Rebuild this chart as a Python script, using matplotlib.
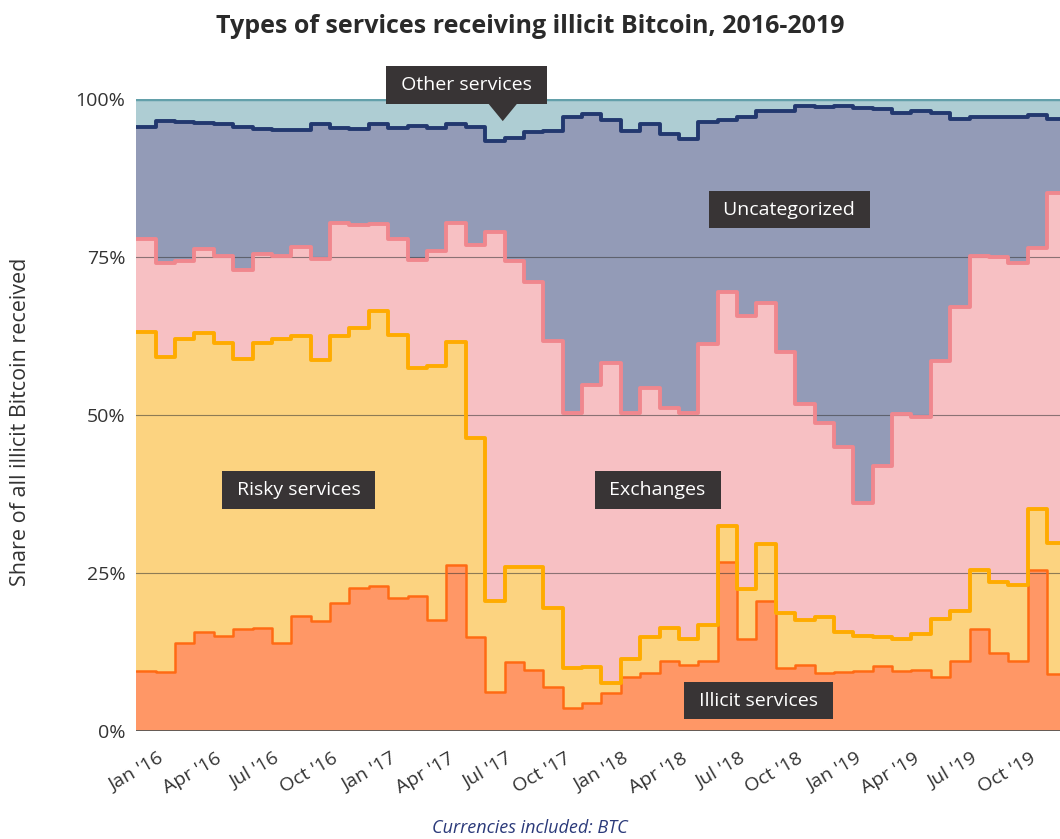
import matplotlib
matplotlib.use("Agg")
import matplotlib.pyplot as plt
from matplotlib.patches import Polygon
import numpy as np

# cumulative share (% of illicit BTC received), monthly Jan 2016 - Dec 2019
illicit_top = [9.5, 9.4, 14.0, 15.7, 15.0, 16.2, 16.3, 14.0, 18.2, 17.4, 20.3, 22.7,
               23.0, 21.0, 21.3, 17.6, 26.3, 14.9, 6.2, 10.9, 9.7, 6.9, 3.7, 4.5,
               6.0, 8.6, 9.2, 11.0, 10.5, 11.0, 26.8, 14.5, 20.6, 9.9, 10.4, 9.2,
               9.4, 9.5, 10.3, 9.5, 9.7, 8.5, 11.1, 16.1, 12.3, 11.1, 25.5, 9.0]
risky_top = [63.1, 59.1, 62.1, 63.0, 61.4, 58.8, 61.4, 62.0, 62.5, 58.7, 62.5, 63.7,
             66.5, 62.7, 57.4, 57.8, 61.6, 46.3, 20.5, 26.0, 26.0, 19.4, 9.9, 10.2,
             7.6, 11.4, 14.9, 16.3, 14.5, 16.7, 32.5, 22.4, 29.6, 18.6, 17.6, 18.0,
             15.6, 15.1, 14.8, 14.6, 15.3, 17.7, 19.0, 25.5, 23.5, 23.1, 35.1, 29.7]
exchanges_top = [77.9, 74.0, 74.4, 76.2, 75.1, 72.9, 75.5, 75.1, 76.6, 74.7, 80.4, 80.0,
                 80.2, 77.8, 74.5, 76.0, 80.4, 76.9, 79.0, 74.3, 71.0, 61.7, 50.3, 54.7,
                 58.2, 50.3, 54.3, 51.1, 50.3, 61.2, 69.4, 65.7, 67.7, 59.9, 51.7, 48.7,
                 44.9, 36.1, 41.9, 50.2, 49.7, 58.5, 67.1, 75.2, 75.0, 74.0, 76.4, 85.2]
uncat_top = [95.6, 96.5, 96.3, 96.2, 96.1, 95.6, 95.3, 95.1, 95.1, 96.1, 95.4, 95.3,
             96.0, 95.4, 95.7, 95.4, 96.1, 95.6, 93.4, 93.8, 94.7, 95.0, 97.2, 97.7,
             96.7, 94.9, 96.1, 94.4, 93.6, 96.3, 96.7, 97.1, 98.1, 98.1, 98.9, 98.7,
             98.9, 98.6, 98.4, 97.8, 98.1, 97.8, 96.9, 97.1, 97.2, 97.1, 97.4, 96.8]
other_top = [100.0] * 48

tick_labels = ["Jan '16", "Apr '16", "Jul '16", "Oct '16", "Jan '17", "Apr '17", "Jul '17", "Oct '17",
               "Jan '18", "Apr '18", "Jul '18", "Oct '18", "Jan '19", "Apr '19", "Jul '19", "Oct '19"]

plt.rcParams['font.family'] = ['Open Sans', 'DejaVu Sans']

fig = plt.figure(figsize=(10.6, 8.39), dpi=100)
ax = fig.add_axes([136.3 / 1060, 108 / 839, 930.2 / 1060, 632 / 839])

x = np.arange(49)
def ext(v):
    return np.append(v, v[-1])

layers = [
    (np.zeros(48), illicit_top, "#ff9766", "#ff6a14", 1.8),
    (illicit_top, risky_top, "#fcd380", "#ffab00", 2.8),
    (risky_top, exchanges_top, "#f7c0c3", "#f0878e", 2.8),
    (exchanges_top, uncat_top, "#939bb7", "#22386f", 2.8),
    (uncat_top, other_top, "#aecdd3", "#63a0aa", 2.5),
]
for lo, hi, fc, lc, lw in layers:
    ax.fill_between(x, ext(lo), ext(hi), step="post", color=fc, lw=0, zorder=1)

for y in [25, 50, 75]:
    ax.axhline(y, color="#333333", lw=0.8, alpha=0.55, zorder=2)

for lo, hi, fc, lc, lw in layers:
    ax.plot(x, ext(hi), drawstyle="steps-post", color=lc, lw=lw, zorder=3,
            solid_joinstyle="round", solid_capstyle="round")

ax.axhline(0, color="#555555", lw=2, zorder=4)

ax.set_xlim(0, 48)
ax.set_ylim(0, 100)
for s in ax.spines.values():
    s.set_visible(False)

ax.set_yticks([0, 25, 50, 75, 100])
ax.set_yticklabels(["0%", "25%", "50%", "75%", "100%"])
ax.tick_params(axis="y", length=0, pad=8, labelsize=14, labelcolor="#333333")

ax.set_xticks(np.arange(0, 48, 3) + 1.1)
ax.set_xticklabels(tick_labels, rotation=30, ha="right", va="top", rotation_mode="anchor")
ax.tick_params(axis="x", length=0, pad=13, labelsize=14, labelcolor="#333333")

ax.set_ylabel("Share of all illicit Bitcoin received", fontsize=15.5, color="#333333")
ax.yaxis.set_label_coords(-0.113, 0.49)

fig.text(0.5, 0.968, "Types of services receiving illicit Bitcoin, 2016-2019",
         ha="center", va="center", fontsize=18, fontweight="bold", color="#2a2a2a")
fig.text(0.5, 0.013, "Currencies included: BTC", ha="center", va="center",
         fontsize=13, style="italic", color="#2b3a7a")

box = dict(boxstyle="square,pad=0.5", fc="#383435", ec="none")
labels = [
    (17.05, 102.2, " Other services "),
    (33.7, 82.5, " Uncategorized "),
    (8.37, 38.1, " Risky services "),
    (26.9, 38.1, " Exchanges "),
    (32.1, 4.8, " Illicit services "),
]
for lx, ly, txt in labels:
    ax.text(lx, ly, txt, ha="center", va="center", fontsize=14, color="white",
            bbox=box, zorder=6, clip_on=False)

ax.add_patch(Polygon([[18.16, 99.3], [19.66, 99.3], [18.91, 96.5]], closed=True,
                     fc="#383435", ec="none", zorder=6, clip_on=False))

fig.savefig("out.png", dpi=100)
